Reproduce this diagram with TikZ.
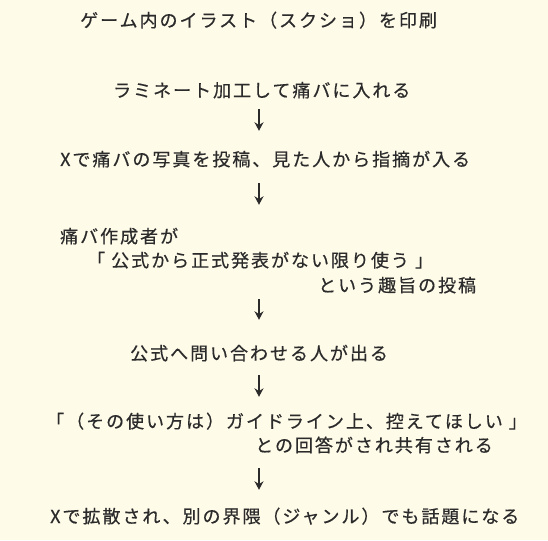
\documentclass[tikz,border=0pt]{standalone}
\usepackage{fontspec}
\usepackage{tikz}
\usetikzlibrary{arrows.meta}
\newfontfamily\jpfont[LetterSpace=11,FakeBold=0.5]{Noto Sans CJK JP}
\definecolor{paper}{HTML}{FFFBE9}
\definecolor{ink}{HTML}{2B2B2B}

\begin{document}
\begin{tikzpicture}[x=1pt,y=-1pt]
            \tikzstyle{txt}=[anchor=base west, inner sep=0pt, text height=12pt, text depth=3pt, text=ink, font=\jpfont\fontsize{18}{20}\selectfont]
            \tikzstyle{down}=[-{Stealth[length=8.5pt,width=9pt]}, line width=1.7pt, draw=ink]

            \fill[paper] (0,0) rectangle (548,540);
            \coordinate (ax) at (259,0);

            \node[txt] (l1) at (80,27) {ゲーム内のイラスト（スクショ）を印刷};
            \node[txt] (l2) at (113,97) {ラミネート加工して痛バに入れる};
            \node[txt] (l3) at (60,166) {Xで痛バの写真を投稿、見た人から指摘が入る};
            \node[txt] (l4a) at (60,243) {痛バ作成者が};
            \node[txt] (l4b) at (87,267) {「 公式から正式発表がない限り使う 」};
            \node[txt] (l4c) at (318,292) {という趣旨の投稿};
            \node[txt] (l5) at (130,360) {公式へ問い合わせる人が出る};
            \node[txt] (l6a) at (46,428) {「（その使い方は）ガイドライン上、控えてほしい 」};
            \node[txt] (l6b) at (255,452) {との回答がされ共有される};
            \node[txt] (l7) at (50,523) {Xで拡散され、別の界隈（ジャンル）でも話題になる};

            \draw[down, shorten <=9pt, shorten >=23pt] (l2.south -| ax) -- (l3.north -| ax);
            \draw[down, shorten <=14pt, shorten >=26pt] (l3.south -| ax) -- (l4a.north -| ax);
            \draw[down, shorten <=4pt, shorten >=28pt] (l4c.south -| ax) -- (l5.north -| ax);
            \draw[down, shorten <=12pt, shorten >=19pt] (l5.south -| ax) -- (l6a.north -| ax);
            \draw[down, shorten <=13pt, shorten >=21pt] (l6b.south -| ax) -- (l7.north -| ax);

\end{tikzpicture}
\end{document}
